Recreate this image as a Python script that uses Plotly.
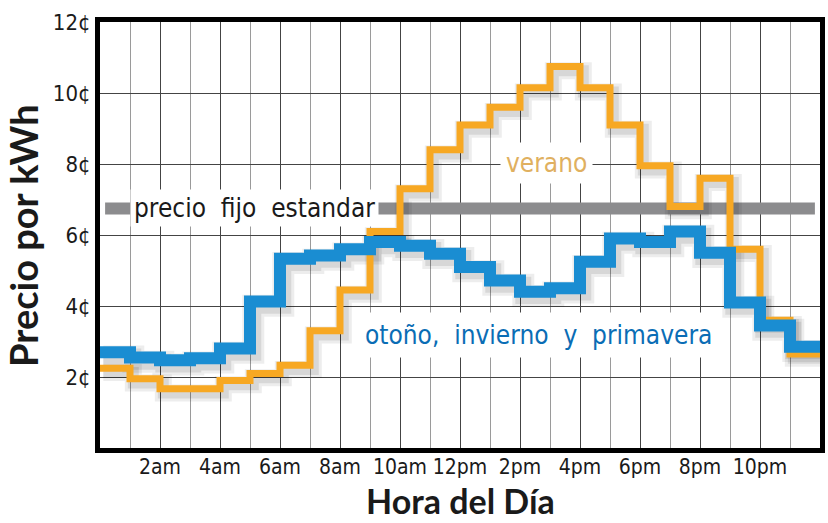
import plotly.graph_objects as go

# hourly step values (cents per kWh), hour h covers [h, h+1)
hours = list(range(25))
verano = [2.25, 1.95, 1.67, 1.67, 1.9, 2.1, 2.33, 3.3, 4.45, 6.1, 7.3, 8.4,
          9.1, 9.6, 10.15, 10.75, 10.15, 9.1, 7.95, 6.8, 7.6, 5.6, 3.6, 2.65]
otono = [2.7, 2.55, 2.47, 2.53, 2.8, 4.13, 5.33, 5.42, 5.6, 5.8, 5.7, 5.47,
         5.1, 4.72, 4.4, 4.5, 5.25, 5.9, 5.8, 6.1, 5.5, 4.1, 3.45, 2.85]
fijo = 6.75
fijo_x = [0.17, 23.83]

xtick_vals = [2, 4, 6, 8, 10, 12, 14, 16, 18, 20, 22]
xtick_text = ["2am", "4am", "6am", "8am", "10am", "12pm", "2pm", "4pm", "6pm", "8pm", "10pm"]
ytick_vals = [2, 4, 6, 8, 10, 12]
ytick_text = ["2¢", "4¢", "6¢", "8¢", "10¢", "12¢"]

X_RANGE = [0, 24]
Y_RANGE = [0, 12]
# drop-shadow offset (in axis units) used for a shifted, invisible overlay axis
SH_DX = 0.11
SH_DY = 0.12


def cond(s):
    return '<span style="font-stretch:condensed">' + s + '</span>'


NARROW = "DejaVu Sans"
BOLD = "Lato, Open Sans, sans-serif"

v_steps = verano + [verano[-1]]
o_steps = otono + [otono[-1]]

fig = go.Figure()
# gray standard price on base axes
fig.add_trace(go.Scatter(x=fijo_x, y=[fijo, fijo], mode="lines",
                         line=dict(color="#8c8c8e", width=12), hoverinfo="skip"))
# soft shadows on shifted overlay axes
for steps, w in ((v_steps, 11), (o_steps, 16)):
    fig.add_trace(go.Scatter(x=hours, y=steps, mode="lines", xaxis="x2", yaxis="y2",
                             line=dict(color="rgba(0,0,0,0.07)", width=w + 6, shape="hv"),
                             hoverinfo="skip"))
    fig.add_trace(go.Scatter(x=hours, y=steps, mode="lines", xaxis="x2", yaxis="y2",
                             line=dict(color="rgba(0,0,0,0.09)", width=w, shape="hv"),
                             hoverinfo="skip"))
# main lines on top overlay axes
fig.add_trace(go.Scatter(x=hours, y=v_steps, mode="lines", xaxis="x3", yaxis="y3",
                         line=dict(color="#f7a823", width=7, shape="hv")))
fig.add_trace(go.Scatter(x=hours, y=o_steps, mode="lines", xaxis="x3", yaxis="y3",
                         line=dict(color="#1a8dd2", width=12, shape="hv")))

fig.add_annotation(x=1.0, y=fijo, xref="x", yref="y", xanchor="left", yanchor="middle",
                   text=cond("precio  fijo  estandar"), showarrow=False,
                   font=dict(family=NARROW, size=26, color="#1a1a1a"),
                   bgcolor="white", borderpad=3)
fig.add_annotation(x=14.87, y=8.03, xref="x", yref="y", xanchor="center", yanchor="middle",
                   text=cond("verano"), showarrow=False,
                   font=dict(family=NARROW, size=26, color="#e0b060"),
                   bgcolor="white", borderpad=5)
fig.add_annotation(x=14.63, y=3.18, xref="x", yref="y", xanchor="center", yanchor="middle",
                   text=cond("otoño,  invierno  y  primavera"), showarrow=False,
                   font=dict(family=NARROW, size=26, color="#0a6db5"),
                   bgcolor="white", borderpad=7)

# axis titles
fig.add_annotation(x=0.5, y=-0.1737, xref="paper", yref="paper", xanchor="center", yanchor="bottom",
                   text="Hora del Día", showarrow=False, borderpad=0,
                   font=dict(family=BOLD, size=34, color="#1a1a1a", weight="bold"))
fig.add_annotation(x=-0.107, y=0.5, xref="paper", yref="paper", xanchor="center", yanchor="middle",
                   text="Precio por kWh", showarrow=False, textangle=-90,
                   font=dict(family=BOLD, size=38, color="#1a1a1a", weight="bold"))

hidden = dict(visible=False, fixedrange=True, showgrid=False, zeroline=False)
fig.update_layout(
    width=828, height=523,
    margin=dict(l=100, r=8, t=22, b=75),
    paper_bgcolor="white", plot_bgcolor="white",
    showlegend=False,
    xaxis=dict(range=X_RANGE, tickmode="array", tickvals=xtick_vals,
               ticktext=[cond(t) for t in xtick_text],
               showgrid=True, gridcolor="#444444", gridwidth=1,
               minor=dict(dtick=1, tick0=0, showgrid=True, gridcolor="#9a9a9a", gridwidth=1),
               showline=True, linecolor="black", linewidth=5, mirror=True,
               ticks="", ticklabelstandoff=-4,
               tickfont=dict(family=NARROW, size=21, color="#1a1a1a"),
               automargin=False, zeroline=False, fixedrange=True),
    yaxis=dict(range=Y_RANGE, tickmode="array", tickvals=ytick_vals,
               ticktext=[cond(t) for t in ytick_text],
               showgrid=True, gridcolor="#444444", gridwidth=1,
               showline=True, linecolor="black", linewidth=5, mirror=True,
               ticks="", tickfont=dict(family=NARROW, size=22, color="#1a1a1a"),
               automargin=False, zeroline=False, fixedrange=True),
    xaxis2=dict(overlaying="x", range=[X_RANGE[0] - SH_DX, X_RANGE[1] - SH_DX], **hidden),
    yaxis2=dict(overlaying="y", range=[Y_RANGE[0] + SH_DY, Y_RANGE[1] + SH_DY], **hidden),
    xaxis3=dict(overlaying="x", range=X_RANGE, **hidden),
    yaxis3=dict(overlaying="y", range=Y_RANGE, **hidden),
)

fig.write_html("out.html", config={"displayModeBar": False},
               post_script="document.body.style.margin='0';document.body.style.overflow='hidden';")
